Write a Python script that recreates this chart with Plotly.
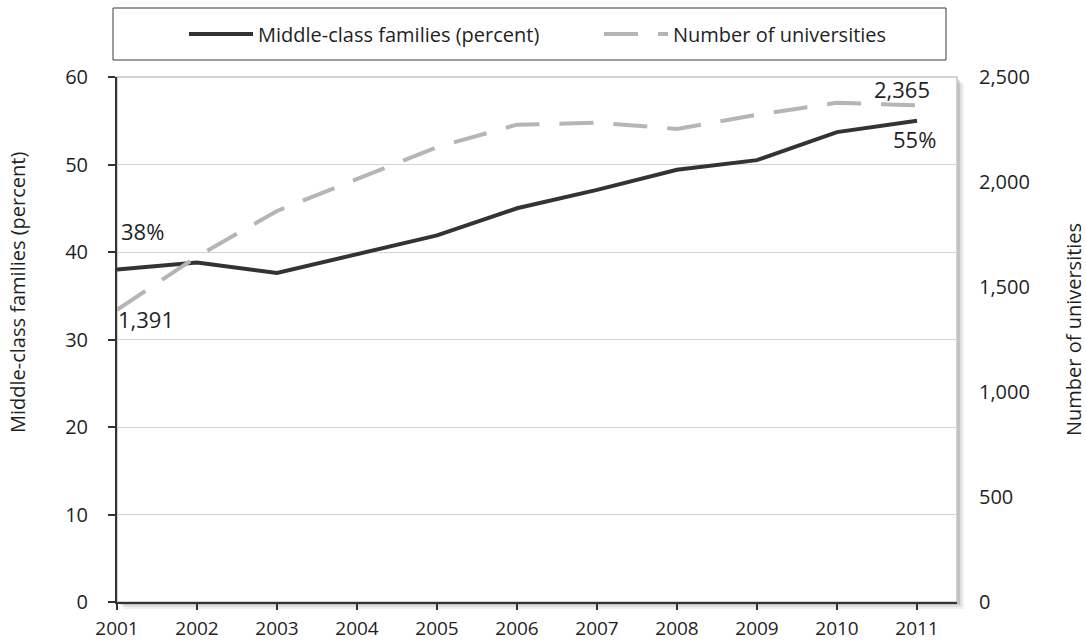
import plotly.graph_objects as go

years = [2001, 2002, 2003, 2004, 2005, 2006, 2007, 2008, 2009, 2010, 2011]
middle_class_pct = [38, 38.8, 37.6, 39.8, 41.9, 45.0, 47.1, 49.4, 50.5, 53.7, 55]
universities = [1391, 1645, 1862, 2015, 2166, 2273, 2282, 2253, 2320, 2377, 2365]

left_ticks = [0, 10, 20, 30, 40, 50, 60]
right_ticks = [0, 500, 1000, 1500, 2000, 2500]

FONT = "Open Sans"
TXT = "#1f1f1f"

ML, MR, MT, MB = 117, 129, 77, 41
FIG_W, FIG_H = 1086, 643
W, H = FIG_W - ML - MR, FIG_H - MT - MB  # plot-area size in px


def px_x(x):
    """Horizontal pixel -> paper coordinate."""
    return (x - ML) / W


def px_y(y):
    """Vertical pixel (from top) -> paper coordinate."""
    return (FIG_H - MB - y) / H


fig = go.Figure()

fig.add_trace(go.Scatter(
    x=years, y=middle_class_pct, name="Middle-class families (percent)",
    mode="lines", line=dict(color="#333333", width=4), yaxis="y"))
fig.add_trace(go.Scatter(
    x=years, y=universities, name="Number of universities",
    mode="lines", line=dict(color="#b5b5b5", width=4, dash="34px,20px"), yaxis="y2"))

lab_font = dict(size=22, color=TXT, family=FONT)
tick_font = dict(size=19, color=TXT, family=FONT)
ytick_font = dict(size=20, color=TXT, family=FONT)
title_font = dict(size=20, color=TXT, family=FONT)

# end-point value labels
fig.add_annotation(x=years[0], y=middle_class_pct[0], xref="x", yref="y",
                   text=f"{middle_class_pct[0]:.0f}%", showarrow=False,
                   xanchor="left", yanchor="middle", xshift=2, yshift=39, font=lab_font)
fig.add_annotation(x=years[0], y=universities[0], xref="x", yref="y2",
                   text=f"{universities[0]:,}", showarrow=False,
                   xanchor="left", yanchor="middle", xshift=-1, yshift=-9, font=lab_font)
fig.add_annotation(x=years[-1], y=universities[-1], xref="x", yref="y2",
                   text=f"{universities[-1]:,}", showarrow=False,
                   xanchor="right", yanchor="middle", xshift=15, yshift=16, font=lab_font)
fig.add_annotation(x=years[-1], y=middle_class_pct[-1], xref="x", yref="y",
                   text=f"{middle_class_pct[-1]:.0f}%", showarrow=False,
                   xanchor="right", yanchor="middle", xshift=21, yshift=-18, font=lab_font)

# axis titles
fig.add_annotation(x=px_x(17), y=px_y(293), xref="paper", yref="paper",
                   text="Middle-class families (percent)", textangle=-90,
                   showarrow=False, xanchor="center", yanchor="middle", font=title_font)
fig.add_annotation(x=px_x(1073), y=px_y(330), xref="paper", yref="paper",
                   text="Number of universities", textangle=-90,
                   showarrow=False, xanchor="center", yanchor="middle", font=title_font)

# plot-area frame with a soft drop shadow
for off, col in [(7, "rgba(0,0,0,0.05)"), (5, "rgba(0,0,0,0.08)"), (3, "rgba(0,0,0,0.12)")]:
    fig.add_shape(type="rect", xref="paper", yref="paper", layer="below",
                  x0=off / W, x1=1 + off / W, y0=-off / H, y1=1 - off / H,
                  line=dict(width=0), fillcolor=col)
fig.add_shape(type="rect", xref="paper", yref="paper", layer="below",
              x0=0, x1=1, y0=0, y1=1, line=dict(width=1.5, color="#c4c4c4"),
              fillcolor="white")

# legend box
fig.add_shape(type="rect", xref="paper", yref="paper",
              x0=px_x(113), x1=px_x(946), y0=px_y(60), y1=px_y(8),
              line=dict(width=1, color="#3a3a3a"), fillcolor="white")

fig.update_layout(
    width=FIG_W, height=FIG_H,
    margin=dict(l=ML, r=MR, t=MT, b=MB),
    paper_bgcolor="white", plot_bgcolor="rgba(0,0,0,0)",
    font=dict(family=FONT, size=20, color=TXT),
    showlegend=True,
    legend=dict(orientation="h", x=px_x(184), xanchor="left",
                y=px_y(34), yanchor="middle",
                bgcolor="rgba(0,0,0,0)", font=title_font,
                itemwidth=64, entrywidth=336, entrywidthmode="pixels"),
    xaxis=dict(range=[2001, 2011.5], tickvals=years, ticktext=[str(y) for y in years],
               showgrid=False, zeroline=False, showline=True, linecolor="#333333",
               linewidth=2, ticks="outside", ticklen=6, tickwidth=2, tickcolor="#333333",
               ticklabelstandoff=2, tickfont=tick_font, automargin=False),
    yaxis=dict(range=[0, 60], tickvals=left_ticks, showgrid=True, gridcolor="#d4d4d4",
               gridwidth=1, zeroline=False, showline=True, linecolor="#333333",
               linewidth=2, ticks="outside", ticklen=7, tickwidth=2, tickcolor="#333333",
               ticklabelstandoff=16, tickfont=ytick_font, automargin=False),
    yaxis2=dict(range=[0, 2500], tickvals=right_ticks, overlaying="y", side="right",
                showgrid=False, zeroline=False, showline=False, ticks="",
                tickformat=",d", ticklabelstandoff=21, tickfont=ytick_font,
                automargin=False),
)

fig.write_html("out.html")
